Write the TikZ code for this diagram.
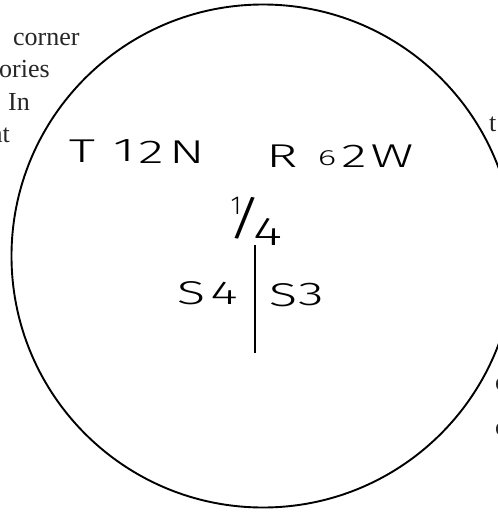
\documentclass[tikz,border=0pt]{standalone}
\usepackage{fontspec}
\setmainfont{Liberation Serif}
\IfFontExistsTF{Fira Sans Light}{\newfontfamily\hand{Fira Sans Light}}{\newfontfamily\hand{Liberation Sans}}
\begin{document}
\begin{tikzpicture}[x=1pt,y=-1pt,
  hw/.style={font=\hand\fontsize{33}{33}\selectfont, inner sep=0pt, xscale=1.6},
  hwsmall/.style={font=\hand\fontsize{22}{22}\selectfont, inner sep=0pt, xscale=1.6},
  pagetext/.style={font=\fontsize{26}{26}\selectfont, inner sep=0pt, text=black!85},
  ring/.style={line width=1.9pt},
  rule/.style={line width=1.3pt}]
\useasboundingbox (0,0) rectangle (498,512);
\clip (0,0) rectangle (498,512);
% surrounding page text (cut off)
\node[pagetext, anchor=base west] (corner) at (13,45) {corner};
\node[pagetext, anchor=base west] (ories) at (-1,77) {ories};
\node[pagetext, anchor=base west] (in) at (8,110) {In};
\node[pagetext, anchor=base west] (at) at (-9,142) {at};
\node[pagetext, anchor=base west] (rt) at (489,131) {t};
\node[pagetext, anchor=base west] (rc1) at (495,390) {c};
\node[pagetext, anchor=base west] (rc2) at (495,435) {c};
% the circle
\node[ring, draw, circle, minimum size=503pt, inner sep=0pt] (circ) at (263,256) {};
% T12N
\node[hw] (t1) at (82,151) {T};
\node[hw] (t2) at (124,151) {1};
\node[hw] (t3) at (151,152) {2};
\node[hw] (t4) at (187,152) {N};
% R62W
\node[hw] (r1) at (282,156) {R};
\node[hwsmall] (r2) at (327,158) {6};
\node[hw] (r3) at (354,156) {2};
\node[hw] (r4) at (392,156) {W};
% 1/4
\node[font=\hand\fontsize{26}{26}\selectfont, inner sep=0pt] (q1) at (236,206) {1};
\node[font=\hand\fontsize{42}{42}\selectfont, inner sep=0pt, xscale=1.7, yscale=1.1] (qs) at (245,218) {/};
\node[font=\hand\fontsize{40}{40}\selectfont, inner sep=0pt, xscale=1.4] (q4) at (268,232) {4};
% S4 | S3
\node[hw] (s4a) at (191,293) {S};
\node[hw] (s4b) at (224,293) {4};
\node[hw] (s3a) at (283,295) {S};
\node[hw] (s3b) at (311,295) {3};
\coordinate (ltop) at (255,245);
\coordinate (lbot) at (255,353);
\draw[rule] (ltop) -- (lbot);
\end{tikzpicture}
\end{document}
